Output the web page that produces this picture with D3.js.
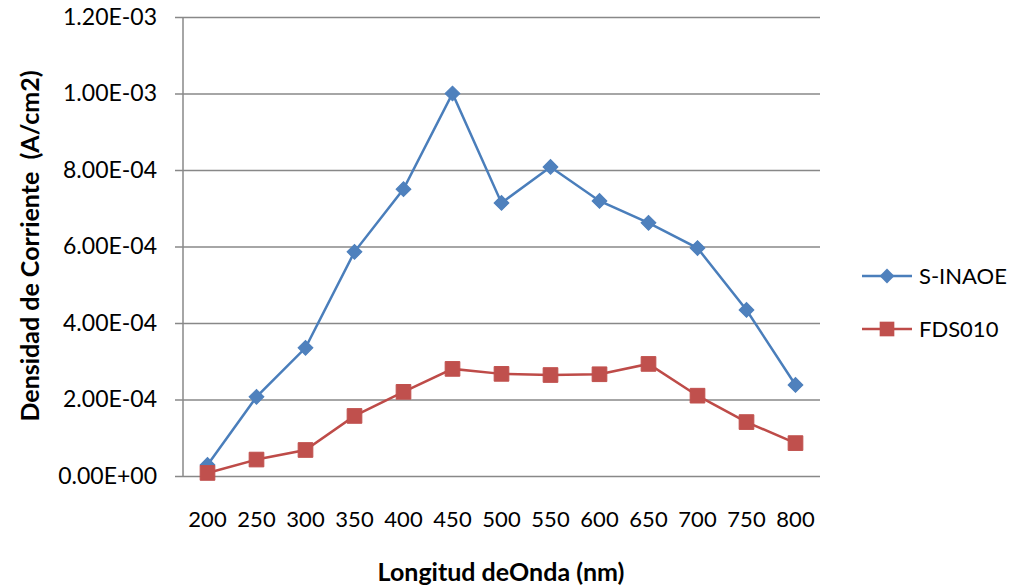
<!DOCTYPE html>
<html>
<head>
<meta charset="utf-8">
<script src="https://cdn.jsdelivr.net/npm/d3@7"></script>
<style>
  body { margin: 0; background: #fff; }
  svg { font-family: Lato, "Open Sans", sans-serif; }
</style>
</head>
<body>
<svg id="chart" width="1012" height="588"></svg>
<script>
// data
const wavelengths = ["200", "250", "300", "350", "400", "450", "500", "550", "600", "650", "700", "750", "800"];
const sInaoe = [2.9e-5, 2.07e-4, 3.35e-4, 5.86e-4, 7.5e-4, 1.0e-3, 7.14e-4, 8.08e-4, 7.19e-4, 6.62e-4, 5.96e-4, 4.34e-4, 2.38e-4];
const fds010 = [8e-6, 4.3e-5, 6.8e-5, 1.57e-4, 2.2e-4, 2.8e-4, 2.67e-4, 2.64e-4, 2.66e-4, 2.93e-4, 2.1e-4, 1.41e-4, 8.6e-5];
const yTicks = [0, 2e-4, 4e-4, 6e-4, 8e-4, 1e-3, 1.2e-3];

const series = [
  { name: "S-INAOE", values: sInaoe, line: "#4A7EBB", fill: "#4F81BD", rot: 45, size: 110 },
  { name: "FDS010", values: fds010, line: "#BE4B48", fill: "#C0504D", rot: 0, size: 215 }
];

const svg = d3.select("#chart");
const plotLeft = 183, plotRight = 820, plotTop = 17, plotBottom = 476;

const x = d3.scaleBand().domain(wavelengths).range([plotLeft, plotRight]);
const y = d3.scaleLinear().domain([0, 1.2e-3]).range([plotBottom, plotTop]);

const fmt = v => {
  if (v === 0) return "0.00E+00";
  const s = v.toExponential(2).toUpperCase();
  return s.replace(/E([+-])(\d)$/, "E$10$2");
};

// grid + y axis
const yAxis = d3.axisLeft(y).tickValues(yTicks).tickSize(-(plotRight - plotLeft)).tickFormat(fmt).tickPadding(26);
const gy = svg.append("g").attr("transform", `translate(${plotLeft},0)`).call(yAxis);
gy.select(".domain").remove();
gy.selectAll(".tick line").attr("stroke", "#888").attr("stroke-width", 1.5).attr("x1", -8);
gy.selectAll(".tick text").attr("font-size", 23).attr("fill", "#000").attr("font-family", "Lato, sans-serif");

svg.append("line")
  .attr("x1", plotLeft).attr("x2", plotLeft).attr("y1", plotTop).attr("y2", plotBottom)
  .attr("stroke", "#888").attr("stroke-width", 1.5);

// x axis labels
const xAxis = d3.axisBottom(x).tickSize(0).tickPadding(35);
const gx = svg.append("g").attr("transform", `translate(0,${plotBottom})`).call(xAxis);
gx.select(".domain").remove();
gx.selectAll(".tick text").attr("font-size", 22).attr("fill", "#000").attr("font-family", "Lato, sans-serif");

// lines and markers
const line = d3.line()
  .x((d, i) => x(wavelengths[i]) + x.bandwidth() / 2)
  .y(d => y(d));

series.forEach(s => {
  svg.append("path")
    .attr("d", line(s.values))
    .attr("fill", "none")
    .attr("stroke", s.line)
    .attr("stroke-width", 2.5);

  svg.append("g").selectAll("path")
    .data(s.values)
    .join("path")
    .attr("transform", (d, i) => `translate(${x(wavelengths[i]) + x.bandwidth() / 2},${y(d)}) rotate(${s.rot})`)
    .attr("d", d3.symbol().type(d3.symbolSquare).size(s.size))
    .attr("fill", s.fill)
    .attr("stroke", s.fill)
    .attr("stroke-width", 1);
});

// legend
const legend = svg.append("g");
series.forEach((s, i) => {
  const ly = 276 + i * 53;
  legend.append("line")
    .attr("x1", 862).attr("x2", 912).attr("y1", ly).attr("y2", ly)
    .attr("stroke", s.line).attr("stroke-width", 2.5);
  legend.append("path")
    .attr("transform", `translate(887,${ly}) rotate(${s.rot})`)
    .attr("d", d3.symbol().type(d3.symbolSquare).size(s.size))
    .attr("fill", s.fill);
  legend.append("text")
    .attr("x", 919).attr("y", ly + 8)
    .attr("font-size", 22)
    .text(s.name);
});

// axis titles
svg.append("text")
  .attr("x", 501)
  .attr("y", 581)
  .attr("text-anchor", "middle")
  .attr("font-size", 25)
  .attr("font-weight", "bold")
  .text("Longitud deOnda (nm)");

svg.append("text")
  .attr("transform", "translate(39,246) rotate(-90)")
  .attr("text-anchor", "middle")
  .attr("font-size", 25)
  .attr("font-weight", "bold")
  .style("white-space", "pre")
  .text("Densidad de Corriente  (A/cm2)");
</script>
</body>
</html>
